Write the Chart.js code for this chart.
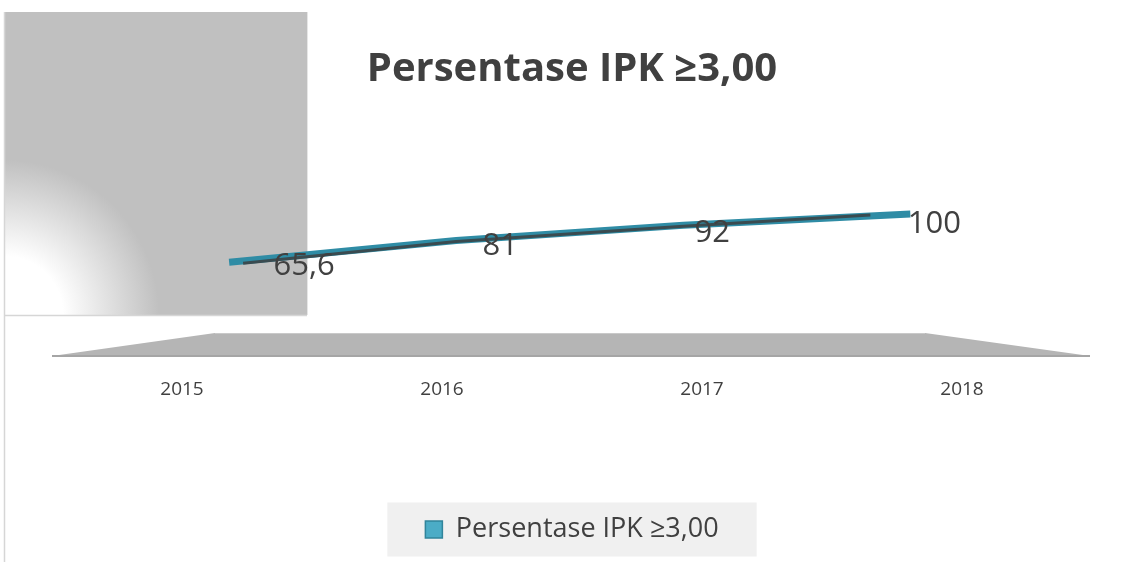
<!DOCTYPE html>
<html>
<head>
<meta charset="utf-8">
<script src="https://cdn.jsdelivr.net/npm/chart.js@4"></script>
<style>
  html, body { margin: 0; padding: 0; background: #fff; }
</style>
</head>
<body>
<canvas id="ipkChart" width="1130" height="562"></canvas>
<script>
const years = ['2015', '2016', '2017', '2018'];
const ipkValues = [65.6, 81, 92, 100];
const valueLabels = ['65,6', '81', '92', '100'];
const seriesName = 'Persentase IPK ≥3,00';

const textColor = '#404040';
const fontName = "'Open Sans', 'Noto Sans', sans-serif";

// grey side wall, floor and the legend's grey box (drawn behind everything)
const backdrop = {
  id: 'backdrop',
  beforeDraw(chart) {
    const ctx = chart.ctx;
    const a = chart.chartArea;
    ctx.save();

    // wall with the white glow in its lower left corner
    const g = ctx.createRadialGradient(4, 315, 0, 4, 315, 155);
    g.addColorStop(0, '#ffffff');
    g.addColorStop(0.38, '#ffffff');
    g.addColorStop(1, '#c0c0c0');
    ctx.fillStyle = g;
    ctx.fillRect(4, 12, 303, 303);
    ctx.strokeStyle = '#e6e6e6';
    ctx.beginPath();
    ctx.moveTo(307.5, 12);
    ctx.lineTo(307.5, 315);
    ctx.stroke();

    ctx.strokeStyle = '#d6d6d6';
    ctx.lineWidth = 1.5;
    ctx.beginPath();
    ctx.moveTo(4.5, 12);
    ctx.lineTo(4.5, 562);
    ctx.moveTo(4, 315.5);
    ctx.lineTo(307, 315.5);
    ctx.stroke();

    // floor
    const fy = a.bottom + 2;
    ctx.fillStyle = '#b5b5b5';
    ctx.beginPath();
    ctx.moveTo(a.left, fy);
    ctx.lineTo(a.left + 163, fy - 23);
    ctx.lineTo(a.right - 167, fy - 23);
    ctx.lineTo(a.right - 2, fy);
    ctx.closePath();
    ctx.fill();
    ctx.strokeStyle = '#c9c9c9';
    ctx.lineWidth = 1;
    ctx.beginPath();
    ctx.moveTo(a.left + 163, fy - 22.5);
    ctx.lineTo(a.right - 167, fy - 22.5);
    ctx.stroke();
    ctx.strokeStyle = '#a5a5a5';
    ctx.lineWidth = 2;
    ctx.beginPath();
    ctx.moveTo(a.left, fy);
    ctx.lineTo(a.right - 2, fy);
    ctx.stroke();

    // legend box
    const hb = chart.legend.legendHitBoxes[0];
    if (hb) {
      const cy = hb.top + hb.height / 2;
      ctx.fillStyle = '#f0f0f0';
      ctx.fillRect(hb.left - 38, cy - 27, hb.width + 76, 54);
    }
    ctx.restore();
  }
};

// darker band through the middle of the ribbon
const ribbon = {
  id: 'ribbon',
  afterDatasetsDraw(chart) {
    const pts = chart.getDatasetMeta(0).data;
    const ctx = chart.ctx;
    ctx.save();
    ctx.strokeStyle = '#3a4b50';
    ctx.lineWidth = 3;
    ctx.beginPath();
    pts.forEach((p, i) => {
      const x = i === 0 ? p.x + 14 : (i === pts.length - 1 ? p.x - 40 : p.x);
      if (i === 0) ctx.moveTo(x, p.y + 1);
      else ctx.lineTo(x, p.y + 1);
    });
    ctx.stroke();
    ctx.restore();
  }
};

// value labels, sitting a bit right/below each point like the 3D original
const labelShift = [[75, 4], [44, 6], [29, 8], [24, 10]];
const dataLabels = {
  id: 'dataLabels',
  afterDatasetsDraw(chart) {
    const pts = chart.getDatasetMeta(0).data;
    const ctx = chart.ctx;
    ctx.save();
    ctx.fillStyle = textColor;
    ctx.font = '31px ' + fontName;
    ctx.textAlign = 'center';
    ctx.textBaseline = 'middle';
    pts.forEach((p, i) => {
      ctx.fillText(valueLabels[i], p.x + labelShift[i][0], p.y + labelShift[i][1]);
    });
    ctx.restore();
  }
};

new Chart(document.getElementById('ipkChart'), {
  type: 'line',
  data: {
    labels: years,
    datasets: [{
      label: seriesName,
      data: ipkValues.map((v, i) => ({ x: i, y: v })),
      xAxisID: 'xLine',
      borderColor: '#2f8ca5',
      backgroundColor: '#4bacc6',
      borderWidth: 7,
      pointRadius: 0,
      tension: 0
    }]
  },
  options: {
    responsive: false,
    animation: false,
    layout: { padding: { left: 52, right: 38, top: 0, bottom: 9 } },
    plugins: {
      title: {
        display: true,
        text: seriesName,
        color: textColor,
        font: { family: fontName, size: 40, weight: 'bold' },
        padding: { top: 46, bottom: 36 }
      },
      legend: {
        position: 'bottom',
        labels: {
          color: textColor,
          font: { family: fontName, size: 27 },
          boxWidth: 17,
          boxHeight: 17,
          generateLabels: () => [{
            text: seriesName,
            fillStyle: '#4bacc6',
            strokeStyle: '#31849b',
            lineWidth: 1.5,
            fontColor: textColor,
            datasetIndex: 0
          }]
        }
      },
      tooltip: { enabled: false }
    },
    scales: {
      x: {
        type: 'category',
        labels: years,
        offset: true,
        grid: { display: false, drawTicks: false },
        border: { display: false },
        ticks: { color: textColor, font: { family: fontName, size: 19 }, padding: 24 },
        afterFit(s) { s.height = 152; }
      },
      xLine: { type: 'linear', display: false, min: -0.78, max: 3.80 },
      y: { display: false, min: 0, max: 160 }
    }
  },
  plugins: [backdrop, ribbon, dataLabels]
});
</script>
</body>
</html>
